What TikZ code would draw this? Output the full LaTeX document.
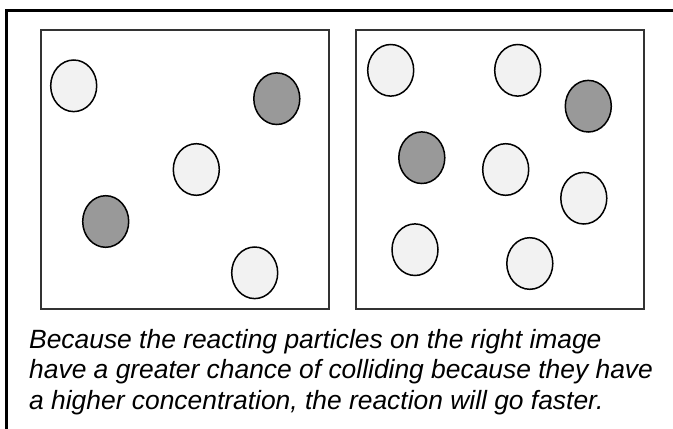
\documentclass[tikz,border=0pt]{standalone}
\usepackage{fontspec}
\setmainfont{Liberation Sans}
\usetikzlibrary{shapes.geometric}
\definecolor{lightp}{HTML}{F2F2F2}
\definecolor{darkp}{HTML}{999999}
\definecolor{boxc}{HTML}{333333}
\tikzset{
  particle/.style={ellipse, draw=black, line width=1.5pt, minimum width=46pt, minimum height=51.6pt, inner sep=0pt},
  lightpart/.style={particle, fill=lightp},
  darkpart/.style={particle, fill=darkp},
  panel/.style={draw=boxc, line width=1.8pt},
  caption/.style={anchor=base west, inner sep=0pt, font=\fontsize{26.4}{31}\selectfont\itshape}
}
\begin{document}
\begin{tikzpicture}[x=1pt,y=-1pt]
\useasboundingbox (0,0) rectangle (673,429);
% outer frame (only top and left visible)
\draw[line width=3pt, black] (6,429) -- (6,10) -- (673,10);
% panels
\draw[panel] (40.7,30) rectangle (328.7,308.7);
\draw[panel] (355.7,30) rectangle (643.7,308.7);
% left panel particles
\node[lightpart] (l1) at (73.7,85.8) {};
\node[darkpart]  (l2) at (276.8,98.7) {};
\node[lightpart] (l3) at (196.3,169.5) {};
\node[darkpart]  (l4) at (105.7,221.5) {};
\node[lightpart] (l5) at (254.7,272.8) {};
% right panel particles
\node[lightpart] (r1) at (390.7,70.3) {};
\node[lightpart] (r2) at (517.7,70.3) {};
\node[darkpart]  (r3) at (588.3,106.2) {};
\node[darkpart]  (r4) at (421.8,157.7) {};
\node[lightpart] (r5) at (505.7,169.5) {};
\node[lightpart] (r6) at (583.8,198.2) {};
\node[lightpart] (r7) at (415,249.7) {};
\node[lightpart] (r8) at (529.8,263.5) {};
% caption
\node[caption] (t1) at (29,348) {Because the reacting particles on the right image};
\node[caption] (t2) at (29,378.5) {have a greater chance of colliding because they have};
\node[caption] (t3) at (29,409) {a higher concentration, the reaction will go faster.};
\end{tikzpicture}
\end{document}
